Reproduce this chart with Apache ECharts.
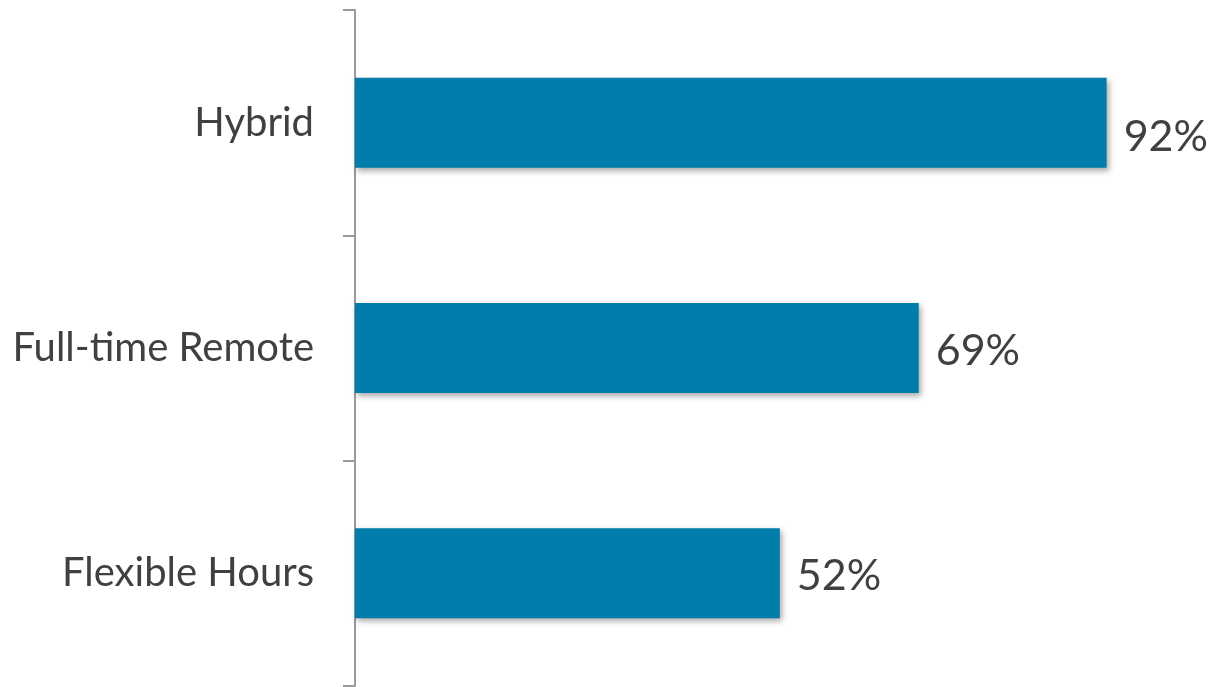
<!DOCTYPE html>
<html>
<head>
<meta charset="utf-8">
<script src="https://cdn.jsdelivr.net/npm/echarts@6/dist/echarts.min.js"></script>
<style>
html,body{margin:0;padding:0;background:#fff;}
#chart{width:1212px;height:687px;}
</style>
</head>
<body>
<div id="chart"></div>
<script>
const categories = ["Hybrid", "Full-time Remote", "Flexible Hours"];
const values = [92, 69, 52];
const valueLabels = ["92%", "69%", "52%"];

const chart = echarts.init(document.getElementById('chart'));
const data = values.map((v, i) => i === 0 ? { value: v, label: { offset: [0, 14] } } : { value: v, label: { offset: [0, 3] } });
chart.setOption({
  animation: false,
  grid: { left: 355, right: 40, top: 10, bottom: 1, containLabel: false },
  xAxis: { type: 'value', min: 0, max: 100, show: false },
  yAxis: {
    type: 'category',
    data: categories,
    inverse: true,
    axisLine: { show: true, lineStyle: { color: '#9a9a9a', width: 2 } },
    axisTick: { show: true, length: 12, lineStyle: { color: '#9a9a9a', width: 2 } },
    axisLabel: { color: '#404040', fontFamily: 'Lato', fontSize: 40, margin: 41 },
    splitLine: { show: false }
  },
  series: [{
    type: 'bar',
    data: data,
    barWidth: 90,
    itemStyle: {
      color: '#007DAA',
      shadowColor: 'rgba(0,0,0,0.35)',
      shadowBlur: 6,
      shadowOffsetX: 2,
      shadowOffsetY: 3
    },
    label: {
      show: true,
      position: 'right',
      distance: 17,
      color: '#404040',
      fontFamily: 'Lato',
      fontSize: 43,
      formatter: p => valueLabels[p.dataIndex]
    }
  }]
});
</script>
</body>
</html>
